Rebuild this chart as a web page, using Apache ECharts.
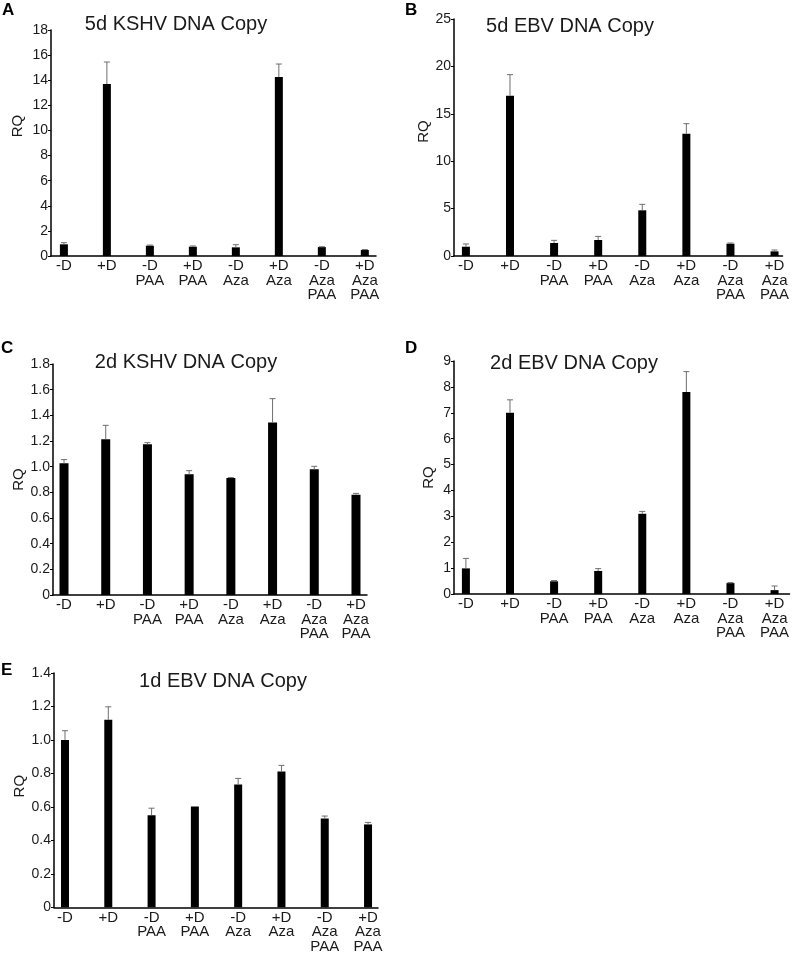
<!DOCTYPE html>
<html>
<head>
<meta charset="utf-8">
<script src="https://cdn.jsdelivr.net/npm/echarts@6/dist/echarts.min.js"></script>
<style>
html,body{margin:0;padding:0;background:#fff;}
#chart{width:792px;height:954px;}
</style>
</head>
<body>
<div id="chart"></div>
<script>
// ---- data ----
var categories = ['-D', '+D', '-D\nPAA', '+D\nPAA', '-D\nAza', '+D\nAza', '-D\nAza\nPAA', '+D\nAza\nPAA'];

var panelLetters = ['A', 'B', 'C', 'D', 'E'];
var panelTitles = ['5d KSHV DNA Copy', '5d EBV DNA Copy', '2d KSHV DNA Copy', '2d EBV DNA Copy', '1d EBV DNA Copy'];

var kshv5dValues = [0.93, 13.7, 0.82, 0.74, 0.69, 14.25, 0.71, 0.48];
var kshv5dErrors = [0.13, 1.75, 0.05, 0.06, 0.21, 1.04, 0.03, 0.03];

var ebv5dValues = [0.98, 16.9, 1.37, 1.69, 4.82, 12.9, 1.30, 0.49];
var ebv5dErrors = [0.29, 2.23, 0.28, 0.38, 0.63, 1.06, 0.07, 0.14];

var kshv2dValues = [1.026, 1.213, 1.174, 0.940, 0.912, 1.345, 0.979, 0.782];
var kshv2dErrors = [0.029, 0.109, 0.013, 0.029, 0.003, 0.185, 0.024, 0.010];

var ebv2dValues = [0.99, 7.0, 0.49, 0.89, 3.10, 7.80, 0.42, 0.15];
var ebv2dErrors = [0.385, 0.50, 0.03, 0.09, 0.09, 0.79, 0.02, 0.16];

var ebv1dValues = [1.0, 1.12, 0.55, 0.602, 0.733, 0.812, 0.531, 0.495];
var ebv1dErrors = [0.055, 0.078, 0.042, 0, 0.037, 0.036, 0.014, 0.012];

var yMaxes = [18, 25, 1.8, 9, 1.4];
var yIntervals = [2, 5, 0.2, 1, 0.2];
var yDecimals = [0, 0, 1, 0, 1];

var panelValues = [kshv5dValues, ebv5dValues, kshv2dValues, ebv2dValues, ebv1dValues];
var panelErrors = [kshv5dErrors, ebv5dErrors, kshv2dErrors, ebv2dErrors, ebv1dErrors];

// ---- layout (pixels) ----
var grids = [
  {left: 51, top: 30, width: 325, height: 226},
  {left: 454, top: 19, width: 333, height: 237},
  {left: 53, top: 364, width: 314, height: 231},
  {left: 454, top: 361, width: 336, height: 233},
  {left: 54, top: 673, width: 324, height: 236}
];
var xRanges = [[-0.30, 7.26], [-0.27, 7.18], [-0.264, 7.264], [-0.27, 7.34], [-0.254, 7.23]];
var nameGaps = [26, 20, 27, 18, 27];
var namePadLeft = [34, 12, 0, 0, 8];
var titlePos = [[176, 24], [570, 26], [186, 362], [574, 363], [223, 681]];
var letterPos = [[2, 2], [405, 2], [1, 340], [405, 340], [1, 662]];
var barWidths = [8, 8, 9, 8, 8];

var FONT = '"Liberation Sans", Arial, sans-serif';

var option = {
  backgroundColor: '#ffffff',
  animation: false,
  grid: [], xAxis: [], yAxis: [], series: [], graphic: []
};

var idx = [0, 1, 2, 3, 4, 5, 6, 7];

for (var p = 0; p < 5; p++) {
  var g = grids[p];
  option.grid.push({left: g.left, top: g.top, width: g.width, height: g.height, containLabel: false});
  option.xAxis.push({
    type: 'value', gridIndex: p,
    min: xRanges[p][0], max: xRanges[p][1],
    axisLine: {show: true, onZero: false, lineStyle: {color: '#000', width: 1.5}},
    axisTick: {show: false},
    splitLine: {show: false},
    axisLabel: {
      customValues: idx,
      formatter: function (v) { return categories[Math.round(v)]; },
      color: '#1a1a1a', fontFamily: FONT, fontSize: 15, lineHeight: 14.5, margin: 3,
      align: 'center', verticalAlign: 'top'
    }
  });
  (function (dec) {
    option.yAxis.push({
      type: 'value', gridIndex: p, min: 0, max: yMaxes[p], interval: yIntervals[p],
      name: 'RQ', nameLocation: 'middle', nameGap: nameGaps[p],
      nameTextStyle: {fontFamily: FONT, fontSize: 15, color: '#1a1a1a', padding: [0, 0, 0, namePadLeft[p]]},
      axisLine: {show: true, onZero: false, lineStyle: {color: '#000', width: 1.5}},
      axisTick: {show: true, length: 3, lineStyle: {color: '#000', width: 1}},
      splitLine: {show: false},
      axisLabel: {
        color: '#1a1a1a', fontFamily: FONT, fontSize: 14, margin: 3,
        formatter: function (v) { return v === 0 ? '0' : v.toFixed(dec); }
      }
    });
  })(yDecimals[p]);

  var vals = panelValues[p], errs = panelErrors[p];
  var barData = [], errData = [];
  for (var i = 0; i < categories.length; i++) {
    barData.push([i, vals[i]]);
    errData.push([i, vals[i], errs[i]]);
  }
  option.series.push({
    type: 'bar', xAxisIndex: p, yAxisIndex: p, data: barData,
    barWidth: barWidths[p], itemStyle: {color: '#000'}, z: 2
  });
  option.series.push({
    type: 'custom', xAxisIndex: p, yAxisIndex: p, data: errData, z: 3,
    encode: {x: 0, y: 1},
    renderItem: function (params, api) {
      var x = api.value(0), v = api.value(1), e = api.value(2);
      if (!e) return null;
      var b = api.coord([x, v]);
      var t = api.coord([x, v + e]);
      var st = {stroke: '#6e6e6e', lineWidth: 1};
      return {
        type: 'group',
        children: [
          {type: 'line', shape: {x1: b[0], y1: b[1], x2: t[0], y2: t[1]}, style: st},
          {type: 'line', shape: {x1: t[0] - 3, y1: t[1], x2: t[0] + 3, y2: t[1]}, style: st}
        ]
      };
    }
  });

  option.graphic.push({
    type: 'text', x: titlePos[p][0], y: titlePos[p][1],
    style: {text: panelTitles[p], font: '20px ' + FONT, fill: '#1a1a1a', align: 'center', verticalAlign: 'middle'}
  });
  option.graphic.push({
    type: 'text', x: letterPos[p][0], y: letterPos[p][1],
    style: {text: panelLetters[p], font: 'bold 17px ' + FONT, fill: '#000', align: 'left', verticalAlign: 'top'}
  });
}

var chart = echarts.init(document.getElementById('chart'), null, {renderer: 'canvas'});
chart.setOption(option);
</script>
</body>
</html>
